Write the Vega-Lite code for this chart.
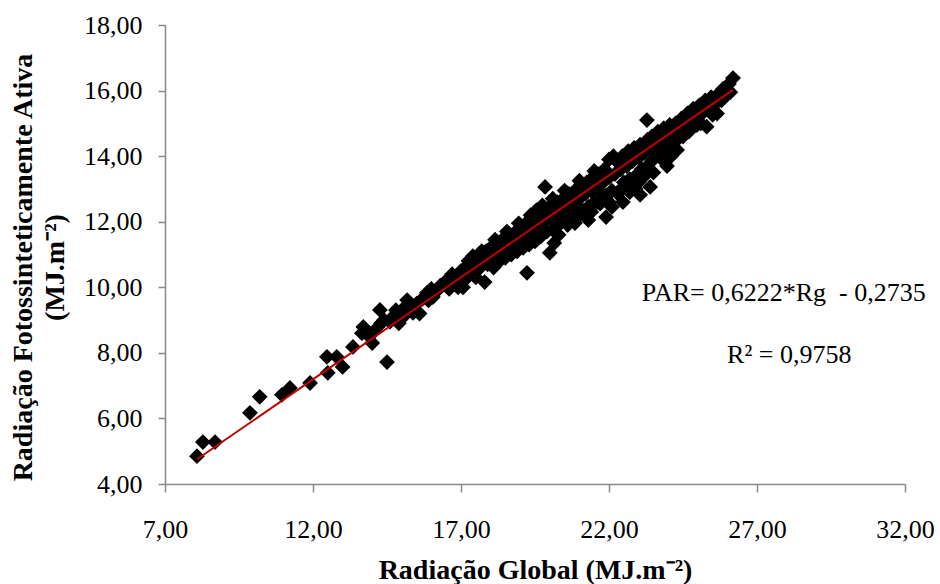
{
  "$schema": "https://vega.github.io/schema/vega-lite/v6.json",
  "width": 740,
  "height": 459,
  "autosize": {"type": "none"},
  "padding": {"left": 165, "top": 25, "right": 35, "bottom": 100},
  "background": "white",
  "config": {
    "view": {"stroke": null},
    "font": "Liberation Serif",
    "axis": {
      "grid": false,
      "labelFlush": false,
      "labelOverlap": false,
      "domainColor": "#898989",
      "domainWidth": 1.5,
      "tickColor": "#898989",
      "tickWidth": 1.5,
      "labelFont": "Liberation Serif",
      "labelFontSize": 26,
      "labelColor": "#000000",
      "titleFont": "Liberation Serif",
      "titleFontSize": 28,
      "titleFontWeight": "bold",
      "titleColor": "#000000"
    }
  },
  "datasets": {
    "pts": [
      {"rg": 8.08, "par": 4.85}, {"rg": 8.28, "par": 5.28}, {"rg": 8.69, "par": 5.28}, {"rg": 9.87, "par": 6.17},
      {"rg": 10.2, "par": 6.66}, {"rg": 10.95, "par": 6.72}, {"rg": 11.22, "par": 6.93}, {"rg": 11.9, "par": 7.08},
      {"rg": 12.5, "par": 7.39}, {"rg": 12.47, "par": 7.88}, {"rg": 12.8, "par": 7.88}, {"rg": 13.0, "par": 7.57},
      {"rg": 13.35, "par": 8.18}, {"rg": 13.65, "par": 8.6}, {"rg": 13.7, "par": 8.79}, {"rg": 14.0, "par": 8.3},
      {"rg": 13.9, "par": 8.5}, {"rg": 14.1, "par": 8.7}, {"rg": 14.4, "par": 9.0}, {"rg": 14.6, "par": 8.95},
      {"rg": 14.8, "par": 9.3}, {"rg": 15.05, "par": 9.1}, {"rg": 15.3, "par": 9.45}, {"rg": 15.7, "par": 9.65},
      {"rg": 16.0, "par": 9.95}, {"rg": 16.3, "par": 10.05}, {"rg": 16.5, "par": 10.2}, {"rg": 16.6, "par": 9.95},
      {"rg": 14.5, "par": 7.72}, {"rg": 14.26, "par": 9.31}, {"rg": 14.3, "par": 8.9}, {"rg": 14.7, "par": 9.1},
      {"rg": 14.9, "par": 8.9}, {"rg": 15.0, "par": 9.3}, {"rg": 15.18, "par": 9.61}, {"rg": 15.38, "par": 9.22},
      {"rg": 15.5, "par": 9.5}, {"rg": 15.6, "par": 9.2}, {"rg": 15.85, "par": 9.83}, {"rg": 15.9, "par": 9.6},
      {"rg": 16.05, "par": 9.7}, {"rg": 16.2, "par": 9.9}, {"rg": 16.7, "par": 10.4}, {"rg": 16.8, "par": 10.1},
      {"rg": 17.07, "par": 10.0}, {"rg": 17.3, "par": 10.74},
      {"rg": 16.9, "par": 10.0}, {"rg": 16.95, "par": 10.3}, {"rg": 17.0, "par": 10.5}, {"rg": 17.1, "par": 10.2},
      {"rg": 17.15, "par": 10.6}, {"rg": 17.2, "par": 10.35}, {"rg": 17.25, "par": 10.8}, {"rg": 17.35, "par": 10.45},
      {"rg": 17.4, "par": 10.95}, {"rg": 17.45, "par": 10.6}, {"rg": 17.5, "par": 10.3}, {"rg": 17.55, "par": 10.8},
      {"rg": 17.6, "par": 11.0}, {"rg": 17.65, "par": 10.6}, {"rg": 17.8, "par": 10.16}, {"rg": 17.75, "par": 10.85},
      {"rg": 17.7, "par": 11.1}, {"rg": 18.15, "par": 11.45}, {"rg": 18.55, "par": 11.7}, {"rg": 18.95, "par": 11.95},
      {"rg": 19.35, "par": 12.2}, {"rg": 19.75, "par": 12.5}, {"rg": 20.1, "par": 12.7}, {"rg": 20.5, "par": 12.95},
      {"rg": 17.85, "par": 11.1}, {"rg": 17.9, "par": 10.7}, {"rg": 18.0, "par": 10.9}, {"rg": 18.05, "par": 11.25},
      {"rg": 18.1, "par": 10.6}, {"rg": 18.2, "par": 11.0}, {"rg": 18.25, "par": 11.35}, {"rg": 18.3, "par": 10.8},
      {"rg": 18.4, "par": 11.1}, {"rg": 18.45, "par": 11.5}, {"rg": 18.5, "par": 10.9}, {"rg": 18.6, "par": 11.25},
      {"rg": 18.65, "par": 11.6}, {"rg": 18.7, "par": 11.0}, {"rg": 18.8, "par": 11.35}, {"rg": 18.85, "par": 11.7},
      {"rg": 18.9, "par": 11.1}, {"rg": 19.0, "par": 11.45}, {"rg": 19.05, "par": 11.85}, {"rg": 19.1, "par": 11.2},
      {"rg": 19.2, "par": 11.6}, {"rg": 19.25, "par": 12.0}, {"rg": 19.23, "par": 10.44}, {"rg": 19.3, "par": 11.3},
      {"rg": 19.4, "par": 11.75}, {"rg": 19.45, "par": 12.15}, {"rg": 19.5, "par": 11.4}, {"rg": 19.55, "par": 12.35},
      {"rg": 19.6, "par": 11.9}, {"rg": 19.65, "par": 12.25}, {"rg": 19.7, "par": 11.55}, {"rg": 19.8, "par": 12.0},
      {"rg": 19.84, "par": 13.06}, {"rg": 19.85, "par": 12.4}, {"rg": 19.9, "par": 11.7}, {"rg": 20.0, "par": 12.1},
      {"rg": 20.0, "par": 11.05}, {"rg": 20.05, "par": 12.5}, {"rg": 20.1, "par": 11.75}, {"rg": 20.15, "par": 11.35},
      {"rg": 20.2, "par": 12.25}, {"rg": 20.25, "par": 12.6}, {"rg": 20.3, "par": 11.9}, {"rg": 20.4, "par": 12.35},
      {"rg": 20.45, "par": 12.7}, {"rg": 20.5, "par": 12.05}, {"rg": 20.6, "par": 12.45}, {"rg": 20.65, "par": 12.85},
      {"rg": 20.7, "par": 12.1}, {"rg": 20.8, "par": 12.6}, {"rg": 20.85, "par": 12.95}, {"rg": 20.85, "par": 11.96},
      {"rg": 20.3, "par": 11.6}, {"rg": 20.6, "par": 11.9}, {"rg": 21.0, "par": 12.2}, {"rg": 21.4, "par": 12.3},
      {"rg": 21.6, "par": 12.6}, {"rg": 22.0, "par": 12.6}, {"rg": 22.3, "par": 12.9}, {"rg": 22.6, "par": 13.1},
      {"rg": 22.9, "par": 13.0}, {"rg": 23.2, "par": 13.4}, {"rg": 23.5, "par": 13.5}, {"rg": 23.8, "par": 13.9},
      {"rg": 24.1, "par": 14.0}, {"rg": 21.0, "par": 13.25}, {"rg": 21.5, "par": 13.55}, {"rg": 22.15, "par": 14.0},
      {"rg": 20.9, "par": 12.3}, {"rg": 21.0, "par": 12.7}, {"rg": 21.05, "par": 13.1}, {"rg": 21.1, "par": 12.35},
      {"rg": 21.2, "par": 12.85}, {"rg": 21.25, "par": 13.2}, {"rg": 21.3, "par": 12.45}, {"rg": 21.3, "par": 12.05},
      {"rg": 21.4, "par": 12.95}, {"rg": 21.45, "par": 13.35}, {"rg": 21.5, "par": 12.6}, {"rg": 21.6, "par": 13.05},
      {"rg": 21.65, "par": 13.45}, {"rg": 21.7, "par": 12.55}, {"rg": 21.7, "par": 12.9}, {"rg": 21.8, "par": 13.2},
      {"rg": 21.85, "par": 13.6}, {"rg": 21.9, "par": 12.14}, {"rg": 21.9, "par": 12.8}, {"rg": 22.0, "par": 13.35},
      {"rg": 22.0, "par": 13.9}, {"rg": 22.1, "par": 12.95}, {"rg": 22.1, "par": 12.45}, {"rg": 22.2, "par": 13.45},
      {"rg": 22.25, "par": 13.85}, {"rg": 22.3, "par": 12.85}, {"rg": 22.4, "par": 13.6}, {"rg": 22.45, "par": 14.0},
      {"rg": 22.47, "par": 12.6}, {"rg": 22.5, "par": 13.2}, {"rg": 22.6, "par": 13.7}, {"rg": 22.65, "par": 14.15},
      {"rg": 22.7, "par": 13.3}, {"rg": 22.7, "par": 12.9}, {"rg": 22.8, "par": 13.85}, {"rg": 22.85, "par": 14.25},
      {"rg": 22.9, "par": 13.4}, {"rg": 23.0, "par": 13.95}, {"rg": 23.05, "par": 14.35}, {"rg": 23.0, "par": 13.2},
      {"rg": 23.05, "par": 12.82}, {"rg": 23.1, "par": 13.6}, {"rg": 23.2, "par": 14.1}, {"rg": 23.28, "par": 15.1},
      {"rg": 23.3, "par": 14.5}, {"rg": 23.39, "par": 13.06}, {"rg": 23.3, "par": 13.7}, {"rg": 23.4, "par": 14.2},
      {"rg": 23.45, "par": 14.6}, {"rg": 23.5, "par": 13.9}, {"rg": 23.6, "par": 14.35}, {"rg": 23.65, "par": 14.75},
      {"rg": 23.7, "par": 14.0}, {"rg": 23.8, "par": 14.5}, {"rg": 23.85, "par": 14.85}, {"rg": 23.96, "par": 13.7},
      {"rg": 23.9, "par": 14.2}, {"rg": 24.0, "par": 14.6}, {"rg": 24.05, "par": 14.95}, {"rg": 24.1, "par": 14.3},
      {"rg": 24.2, "par": 14.7}, {"rg": 24.25, "par": 15.0}, {"rg": 24.3, "par": 14.19}, {"rg": 24.3, "par": 14.5},
      {"rg": 24.4, "par": 14.85}, {"rg": 24.45, "par": 15.15}, {"rg": 24.5, "par": 14.6}, {"rg": 24.6, "par": 15.0},
      {"rg": 24.65, "par": 15.3}, {"rg": 24.7, "par": 14.75}, {"rg": 24.8, "par": 15.1}, {"rg": 24.85, "par": 15.45},
      {"rg": 24.97, "par": 14.95}, {"rg": 25.0, "par": 15.25}, {"rg": 25.05, "par": 15.55}, {"rg": 25.1, "par": 15.0},
      {"rg": 25.2, "par": 15.35}, {"rg": 25.25, "par": 15.7}, {"rg": 25.3, "par": 14.9}, {"rg": 25.4, "par": 15.5},
      {"rg": 25.45, "par": 15.8}, {"rg": 25.5, "par": 15.26}, {"rg": 25.65, "par": 15.3}, {"rg": 25.6, "par": 15.6},
      {"rg": 25.7, "par": 15.9}, {"rg": 25.8, "par": 15.7}, {"rg": 25.85, "par": 16.05}, {"rg": 25.9, "par": 15.8},
      {"rg": 26.0, "par": 16.0}, {"rg": 26.05, "par": 16.2}, {"rg": 26.1, "par": 15.95}, {"rg": 26.19, "par": 16.38}
    ],
    "fit": [
      {"rg": 8.08, "par": 4.754},
      {"rg": 26.19, "par": 16.022}
    ],
    "notes": [
      {"rg": 23.11, "par": 9.83, "label": "PAR= 0,6222*Rg\u00a0 - 0,2735"},
      {"rg": 25.99, "par": 7.94, "label": "R² = 0,9758"}
    ]
  },
  "encoding": {
    "x": {
      "field": "rg", "type": "quantitative",
      "scale": {"domain": [7, 32], "nice": false, "zero": false},
      "axis": {
        "values": [7, 12, 17, 22, 27, 32],
        "labelExpr": "replace(format(datum.value, '.2f'), '.', ',')",
        "tickSize": 8, "labelPadding": 24,
        "title": "Radiação Global (MJ.m⁻²)",
        "titlePadding": 14
      }
    },
    "y": {
      "field": "par", "type": "quantitative",
      "scale": {"domain": [4, 18], "nice": false, "zero": false},
      "axis": {
        "values": [4, 6, 8, 10, 12, 14, 16, 18],
        "labelExpr": "replace(format(datum.value, '.2f'), '.', ',')",
        "tickSize": 7, "labelPadding": 16,
        "title": ["Radiação Fotossinteticamente Ativa", "(MJ.m⁻²)"],
        "titleLineHeight": 32,
        "titlePadding": 14,
        "titleY": 242
      }
    }
  },
  "layer": [
    {
      "data": {"name": "pts"},
      "mark": {"type": "point", "shape": "diamond", "filled": true, "size": 250, "color": "#000000", "opacity": 1}
    },
    {
      "data": {"name": "fit"},
      "mark": {"type": "line", "color": "#C00000", "strokeWidth": 2}
    },
    {
      "data": {"name": "notes"},
      "mark": {"type": "text", "align": "left", "baseline": "middle", "font": "Liberation Serif", "fontSize": 26, "color": "#000000"},
      "encoding": {"text": {"field": "label", "type": "nominal"}}
    }
  ]
}
